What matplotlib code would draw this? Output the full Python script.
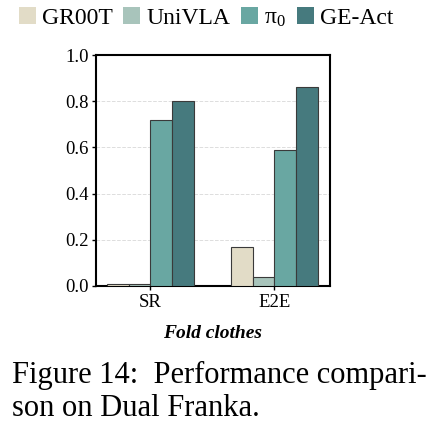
import matplotlib
matplotlib.use("Agg")
import matplotlib.pyplot as plt
import numpy as np

categories = ["SR", "E2E"]
methods = ["GR00T", "UniVLA", "π$_0$", "GE-Act"]
values = {
    "GR00T": [0.01, 0.17],
    "UniVLA": [0.01, 0.04],
    "π$_0$": [0.72, 0.59],
    "GE-Act": [0.80, 0.86],
}
colors = ["#e2dcc7", "#a8c4bb", "#69a7a2", "#467a7e"]
yticks = [0.0, 0.2, 0.4, 0.6, 0.8, 1.0]

plt.rcParams['font.family'] = ['Liberation Serif', 'DejaVu Serif']
plt.rcParams['mathtext.fontset'] = 'custom'
plt.rcParams['mathtext.rm'] = 'Liberation Serif'
plt.rcParams['mathtext.it'] = 'Liberation Serif:italic'

fig = plt.figure(figsize=(4.44, 4.26), dpi=100)
ax = fig.add_axes([96/444, 1-286/426, 234/444, 231/426])

x = np.arange(len(categories))
w = 0.175
for i, m in enumerate(methods):
    ax.bar(x + (i - 1.5) * w, values[m], w, color=colors[i], edgecolor="#3a3a3a",
           linewidth=0.8, label=m, zorder=3)

ax.set_xlim(-0.44, 1.45)
ax.set_ylim(0, 1.0)
ax.set_yticks(yticks)
ax.set_yticklabels([f"{v:.1f}" for v in yticks])
ax.set_xticks(x)
ax.set_xticklabels(categories)
ax.tick_params(axis='both', labelsize=13.5, length=3, width=1, pad=2)
ax.tick_params(axis='x', pad=3)
for s in ax.spines.values():
    s.set_linewidth(1.5)
ax.yaxis.grid(True, linestyle='--', color='#dddddd', linewidth=0.7, zorder=0)
ax.set_axisbelow(True)

fig.text(0.5*(96+330)/444, 1-333/426, "Fold clothes", ha='center', va='center',
         fontsize=14, fontweight='bold', fontstyle='italic')

leg = fig.legend(loc='upper center', bbox_to_anchor=(206/444, 1.0), ncol=4,
           frameon=False, fontsize=17, handlelength=0.72, handleheight=0.72,
           handletextpad=0.25, columnspacing=0.47, borderaxespad=0.1, borderpad=0.2)
for h in leg.legend_handles:
    h.set_edgecolor('none')

fig.text(12/444, 1-375/426, "Figure 14:  Performance compari-", ha='left', va='center', fontsize=22)
fig.text(12/444, 1-409/426, "son on Dual Franka.", ha='left', va='center', fontsize=22)

fig.savefig("out.png", dpi=100)
